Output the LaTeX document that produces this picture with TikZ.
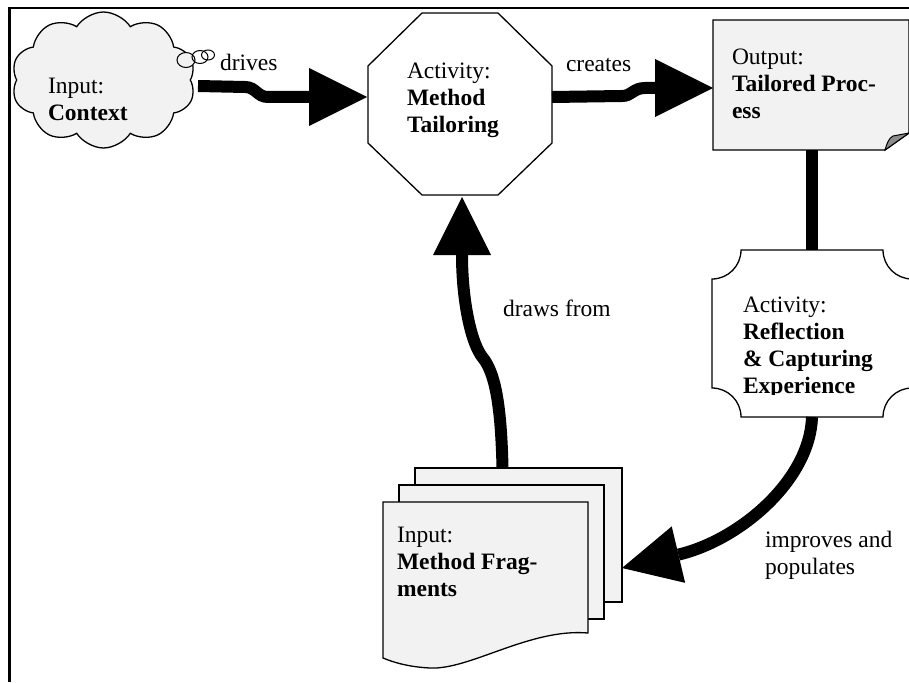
\documentclass[tikz,border=0pt]{standalone}
\usepackage{fontspec}
\setmainfont{Liberation Serif}
\usetikzlibrary{arrows.meta,shapes.symbols,calc}
\tikzset{
  outline/.style={draw=black, line width=1.3pt, line join=miter},
  paper/.style={outline, fill=black!5},
  anchorbox/.style={inner sep=0pt, outer sep=0pt, draw=none, rectangle},
  lbl/.style={inner sep=0pt, outer sep=0pt, anchor=base west, font=\fontsize{23.5}{27}\selectfont},
  flow/.style={line width=12pt, -{Triangle[length=58pt,width=58pt,line width=0pt]}},
  plainflow/.style={line width=12pt},
}
\newcommand{\stacked}[1]{\begin{tabular}[t]{@{}l@{}}#1\end{tabular}}
\begin{document}
\begin{tikzpicture}[x=1pt,y=-1pt]
\useasboundingbox (0,0) rectangle (909,682);
% frame
\draw[line width=2.5pt] (9.5,682) -- (9.5,8) -- (909,8);

% cloud (input context)
\node[cloud, cloud puffs=10, cloud puff arc=115, aspect=1.35, minimum width=184, minimum height=136, paper, inner sep=0pt] (ctx) at (103.5,80) {};
\draw[outline, line width=1pt, fill=black!5] (186,60) ellipse [x radius=9, y radius=7.5];
\draw[outline, line width=1pt] (200,57) ellipse [x radius=8, y radius=6.5];
\draw[outline, line width=1pt] (208,55) ellipse [x radius=6.5, y radius=5];

% octagon (method tailoring)
\node[anchorbox, minimum width=184, minimum height=182] (mt) at (460,104) {};
\draw[outline, fill=white] (422,13) -- (498,13) -- (552,66) -- (552,143) -- (498,195) -- (422,195) -- (368,143) -- (368,66) -- cycle;

% document (tailored process)
\node[anchorbox, minimum width=196, minimum height=130] (tp) at (811,85) {};
\draw[paper] (713,20) -- (909,20) -- (909,133) -- (885,150) -- (713,150) -- cycle;
\draw[outline, line width=1pt, fill=black!45] (885,150) .. controls (887,143) and (889,138) .. (893,136) -- (909,133) -- cycle;

% plaque (reflection)
\node[anchorbox, minimum width=200, minimum height=167] (rf) at (812,333.5) {};
\draw[outline, fill=white] (741,250) -- (883,250) .. controls (883,266) and (896,279) .. (912,279) -- (912,388) .. controls (896,388) and (883,401) .. (883,417) -- (741,417) .. controls (741,401) and (728,388) .. (712,388) -- (712,279) .. controls (728,279) and (741,266) .. (741,250) -- cycle;

% stacked documents (method fragments)
\node[anchorbox, minimum width=239, minimum height=200] (mf) at (502.5,568) {};
\draw[paper] (415,468) rectangle (622,602);
\draw[paper] (399,485) rectangle (604,619);
\draw[paper] (383,502) -- (588,502) -- (588,633) .. controls (530,628) and (470,670) .. (430,668) .. controls (410,667) and (395,663) .. (383,658) -- cycle;

% connectors
\draw[flow] ($(ctx.center)+(94.5,6)$) -- (245,87) .. controls (256,87) and (257,97) .. (268,97) -- ($(mt.west)+(-1,-7)$);
\draw[flow] ($(mt.east)+(0,-7)$) -- (622,96) .. controls (632,96) and (633,88) .. (645,88) -- ($(tp.west)+(0,3)$);
\draw[plainflow] ($(tp.south)+(1,0)$) -- (rf.north);
\draw[flow] (rf.south) .. controls (810,480) and (740,540) .. (mf.east);
\draw[flow] (mf.north) .. controls (501,400) and (494,372) .. (483,358) .. controls (471,344) and (462,300) .. ($(mt.south)+(2,2)$);

% texts
\node[lbl] at (48,94) {\stacked{Input:\\\textbf{Context}}};
\node[lbl] at (407,79) {\stacked{Activity:\\\textbf{Method}\\\textbf{Tailoring}}};
\node[lbl] at (732,65) {\stacked{Output:\\\textbf{Tailored Proc-}\\\textbf{ess}}};
\begin{scope}
\clip (700,250) rectangle (909,394);
\node[lbl] at (743,312) {\stacked{Activity:\\\textbf{Reflection}\\\textbf{\& Capturing}\\\textbf{Experience}}};
\end{scope}
\node[lbl] at (397,542) {\stacked{Input:\\\textbf{Method Frag-}\\\textbf{ments}}};
\node[lbl] at (220,71) {drives};
\node[lbl] at (566,72) {creates};
\node[lbl] at (503,316) {draws from};
\node[lbl] at (765,547) {\stacked{improves and\\populates}};
\end{tikzpicture}
\end{document}
